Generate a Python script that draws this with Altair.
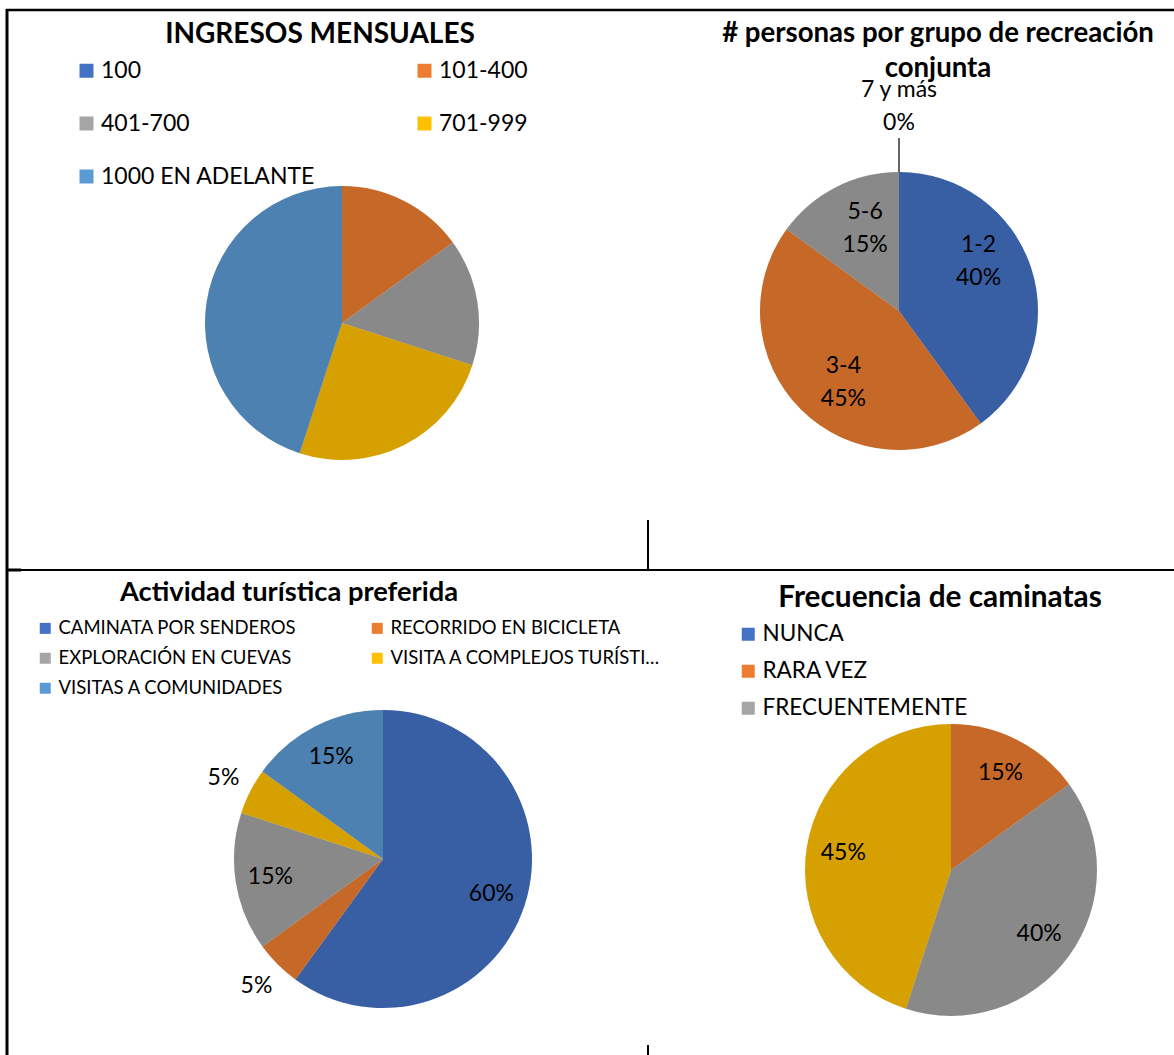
import altair as alt
import pandas as pd

FONT = "Lato"

# ---------------- data ----------------
ing_title = "INGRESOS MENSUALES"
ing_cats = ["100", "101-400", "401-700", "701-999", "1000 EN ADELANTE"]
ing_vals = [0, 15, 15, 25, 45]

per_title = ["# personas por grupo de recreación", "conjunta"]
per_cats = ["1-2", "3-4", "5-6", "7 y más"]
per_vals = [40, 45, 15, 0]

act_title = "Actividad turística preferida"
act_cats = ["CAMINATA POR SENDEROS", "RECORRIDO EN BICICLETA", "EXPLORACIÓN EN CUEVAS",
            "VISITA A COMPLEJOS TURÍSTICOS", "VISITAS A COMUNIDADES"]
act_vals = [60, 5, 15, 5, 15]

fre_title = "Frecuencia de caminatas"
fre_cats = ["NUNCA", "RARA VEZ", "FRECUENTEMENTE", "SIEMPRE"]
fre_vals = [0, 15, 40, 45]
fre_legend = ["NUNCA", "RARA VEZ", "FRECUENTEMENTE"]

palette = ["#4472C4", "#ED7D31", "#A5A5A5", "#FFC000", "#5B9BD5"]

one = pd.DataFrame({"k": [0]})


def pie_base(cats, vals, cx, cy):
    df = pd.DataFrame({"cat": cats, "v": vals, "i": list(range(len(cats)))})
    return alt.Chart(df).encode(
        theta=alt.Theta("v:Q", stack=True),
        order=alt.Order("i:Q"),
        detail="cat:N",
        x=alt.value(cx),
        y=alt.value(cy),
    )


def pie_layers(cats, vals, cx, cy, r, legend):
    base = pie_base(cats, vals, cx, cy)
    arcs = base.mark_arc(radius=r).encode(
        color=alt.Color("cat:N", sort=cats,
                        scale=alt.Scale(domain=cats, range=palette[:len(cats)]),
                        legend=legend)
    )
    shade = base.mark_arc(radius=r, color="black", opacity=0.165)
    return base, [arcs, shade]


def txt(base, radius, expr, size=23, dx=0, dy=0):
    return base.transform_calculate(lab=expr).mark_text(
        radius=radius, font=FONT, fontSize=size, color="black",
        baseline="middle", align="center", lineHeight=33, dx=dx, dy=dy
    ).encode(text="lab:N")


def legend(x, y, size, sym, rowpad, colpad, cols, offset, values=None, limit=400):
    kw = dict(orient="none", legendX=x, legendY=y, title=None, columns=cols,
              direction="horizontal" if cols > 1 else "vertical",
              symbolType="square", symbolSize=sym, symbolStrokeWidth=0,
              labelFont=FONT, labelFontSize=size, labelColor="black",
              rowPadding=rowpad, columnPadding=colpad, labelOffset=offset,
              padding=0, labelLimit=limit)
    if values is not None:
        kw["values"] = values
    return alt.Legend(**kw)


# pie 1
b1, l1 = pie_layers(ing_cats, ing_vals, 342, 323, 137,
                    legend(75, 59, 23, 196, 29, 97, 2, 3))
pie1 = alt.layer(*l1)

# pie 2
b2, l2 = pie_layers(per_cats, per_vals, 899, 311, 139, None)
lab2 = "[datum.cat, datum.v + '%']"
t2a = txt(b2, 90, f"datum.cat == '1-2' ? {lab2} : ''", dx=-6, dy=-38)
t2b = txt(b2, 90, f"datum.cat == '3-4' ? {lab2} : ''", dx=8, dy=-9)
t2c = txt(b2, 90, f"datum.cat == '5-6' ? {lab2} : ''", dx=7, dy=-19)
t2d = txt(b2, 221, f"datum.v == 0 ? {lab2} : ''")
lead = b2.mark_arc(radius=173, radius2=139, fillOpacity=0, stroke="black",
                   strokeWidth=1.2).encode(
    strokeOpacity=alt.condition("datum.v == 0", alt.value(1), alt.value(0)))
pie2 = alt.layer(*l2, t2a, t2b, t2c, t2d, lead)

# pie 3
b3, l3 = pie_layers(act_cats, act_vals, 383, 859, 149,
                    legend(36, 619, 18.5, 121, 11, 71, 2, 4, limit=272))
t3 = txt(b3, 114, "datum.v >= 10 ? datum.v + '%' : ''")
t3b = txt(b3, 179, "datum.v < 10 ? datum.v + '%' : ''")
pie3 = alt.layer(*l3, t3, t3b)

# pie 4
b4, l4 = pie_layers(fre_cats, fre_vals, 951, 870, 146,
                    legend(737, 623, 22.5, 169, 14, 50, 1, 3, values=fre_legend))
t4 = txt(b4, 109, "datum.v > 0 ? datum.v + '%' : ''")
pie4 = alt.layer(*l4, t4)


# titles
def title(t, x, y, size):
    return alt.Chart(one).mark_text(
        font=FONT, fontWeight="bold", fontSize=size, color="black",
        align="center", baseline="middle", lineHeight=35
    ).encode(x=alt.value(x), y=alt.value(y), text=alt.value(t))


titles = [
    title(ing_title, 320, 35, 28),
    title(per_title, 938, 34, 27.6),
    title(act_title, 289, 593, 27.3),
    title(fre_title, 940, 598, 29.8),
]


# table borders
def hline(x1, x2, y, w):
    return alt.Chart(one).mark_rule(color="black", strokeWidth=w).encode(
        x=alt.value(x1), x2=alt.value(x2), y=alt.value(y))


def vline(x, y1, y2, w):
    return alt.Chart(one).mark_rule(color="black", strokeWidth=w).encode(
        x=alt.value(x), y=alt.value(y1), y2=alt.value(y2))


lines = [
    hline(6, 1174, 10, 2.5),
    vline(7, 9, 1055, 3),
    hline(6, 1174, 570, 2),
    hline(6, 21, 570, 3),
    vline(648, 520, 570, 2),
    vline(648, 1045, 1055, 2),
]

chart = alt.layer(pie1, pie2, pie3, pie4, *titles, *lines).resolve_scale(
    theta="independent", color="independent"
).properties(
    width=1174, height=1055, padding=0, autosize=alt.AutoSizeParams(type="none"),
    background="white"
).configure_view(stroke=None)

chart.save("out.html", embed_options={"renderer": "svg", "actions": False})
